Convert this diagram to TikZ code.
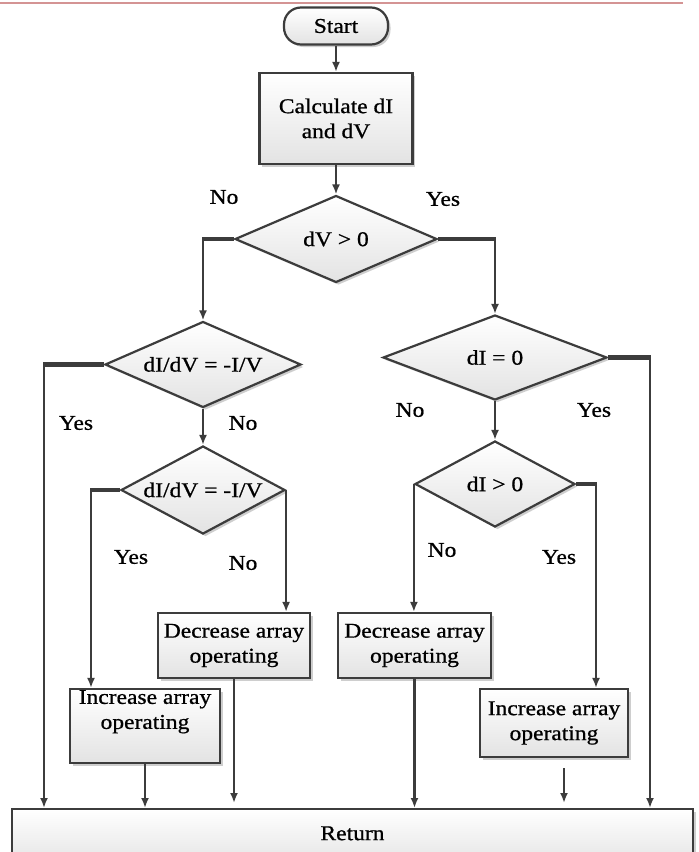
\documentclass[tikz,border=0pt]{standalone}
\usepackage{fontspec}
\setmainfont{Liberation Serif}[FakeStretch=1.12,FakeBold=0.8]
\usetikzlibrary{arrows.meta,shadows,shapes.geometric}
\definecolor{lc}{HTML}{3C3C3C}
\definecolor{redline}{HTML}{D49494}
\tikzset{
  conn/.style={draw=lc, line width=2.2pt},
  arr/.style={conn, -{Latex[length=10pt,width=8pt]}},
  thk/.style={draw=lc, line width=4.5pt},
  filled/.style={draw=lc, line width=2.2pt, top color=white, bottom color=gray!22,
     drop shadow={shadow xshift=2.5pt, shadow yshift=-2.5pt, fill=gray!75}},
  procbox/.style={filled, shape=rectangle, align=center, inner sep=0pt},
  decbox/.style={filled, shape=diamond, aspect=2, inner sep=0pt},
  termbox/.style={filled, shape=rectangle, rounded corners=17pt, inner sep=0pt},
  lbl/.style={inner sep=0pt}
}
\begin{document}
\begin{tikzpicture}[x=1pt,y=-1pt,font=\fontsize{21}{25}\selectfont]
\clip (0,0) rectangle (699,852);
\fill[white] (0,0) rectangle (699,852);
\draw[redline, line width=1.4pt] (0,3) -- (683,3);

% nodes
\node[termbox, minimum width=104pt, minimum height=37pt] (start) at (336,26) {Start};
\node[procbox, minimum width=153pt, minimum height=91pt] (calc) at (336,118.5) {Calculate dI\\and dV};
\node[decbox, minimum width=202pt, minimum height=87pt] (d1) at (336,239) {dV > 0};
\node[decbox, minimum width=196pt, minimum height=86pt] (d2) at (203,364.5) {dI/dV = -I/V};
\node[decbox, minimum width=224pt, minimum height=85pt] (d3) at (495,357.5) {dI = 0};
\node[decbox, minimum width=164pt, minimum height=88pt] (d4) at (203,490) {dI/dV = -I/V};
\node[decbox, minimum width=160pt, minimum height=86pt] (d5) at (495,484) {dI > 0};
\node[procbox, minimum width=152pt, minimum height=65pt] (dec1) at (234,645.5) {Decrease array\\operating};
\node[procbox, minimum width=153pt, minimum height=65pt] (dec2) at (414.5,645.5) {Decrease array\\operating};
\node[procbox, minimum width=150pt, minimum height=74pt] (inc1) at (145,726) {Increase array\\operating\\[8pt]};
\node[procbox, minimum width=148pt, minimum height=68pt] (inc2) at (554,723) {Increase array\\operating};
\node[procbox, anchor=north, minimum width=681pt, minimum height=58pt, text height=14pt, text depth=10pt] (ret) at (352.5,808) {Return};

% labels
\node[lbl] (n1) at (224,197) {No};
\node[lbl] (y1) at (443,199) {Yes};
\node[lbl] (y2) at (76,423) {Yes};
\node[lbl] (n2) at (243,423) {No};
\node[lbl] (n3) at (410,410) {No};
\node[lbl] (y3) at (594,410) {Yes};
\node[lbl] (y4) at (131,557) {Yes};
\node[lbl] (n4) at (243,563) {No};
\node[lbl] (n5) at (442,550) {No};
\node[lbl] (y5) at (559,557) {Yes};

% coordinates
\coordinate (c1) at (d2.north |- d1.west);
\coordinate (c2) at (d3.north |- d1.east);
\coordinate (c3) at (44,0 |- d2.west);
\coordinate (c4) at (650,0 |- d3.east);
\coordinate (c5) at (91,0 |- d4.west);
\coordinate (c6) at (596,0 |- d5.east);
\coordinate (i2) at ([xshift=10pt,yshift=-10pt]inc2.south);

% connectors
\draw[arr] (start) -- (calc);
\draw[arr] (calc) -- (d1);
\draw[thk] (d1.west) -- ([xshift=-1pt]c1);
\draw[arr] (c1) -- (d2.north);
\draw[thk] (d1.east) -- ([xshift=1pt]c2);
\draw[arr] (c2) -- (d3.north);
\draw[thk] (d2.west) -- ([xshift=-1pt]c3);
\draw[arr] (c3) -- (c3 |- ret.north);
\draw[arr] (d2.south) -- (d4.north);
\draw[thk] (d3.east) -- ([xshift=1pt]c4);
\draw[arr] (c4) -- (c4 |- ret.north);
\draw[arr] (d3.south) -- (d5.north);
\draw[thk] (d4.west) -- ([xshift=-1pt]c5);
\draw[arr] (c5) -- (c5 |- inc1.north);
\draw[arr] (d4.east) -- (d4.east |- dec1.north);
\draw[arr] (d5.west) -- (d5.west |- dec2.north);
\draw[thk] (d5.east) -- ([xshift=1pt]c6);
\draw[arr] (c6) -- (c6 |- inc2.north);
\draw[arr, shorten >=5pt] (dec1.south) -- (dec1.south |- ret.north);
\draw[arr] (inc1.south) -- (inc1.south |- ret.north);
\draw[arr] (dec2.south) -- (dec2.south |- ret.north);
\draw[arr, shorten >=5pt] (i2) -- (i2 |- ret.north);
\end{tikzpicture}
\end{document}
